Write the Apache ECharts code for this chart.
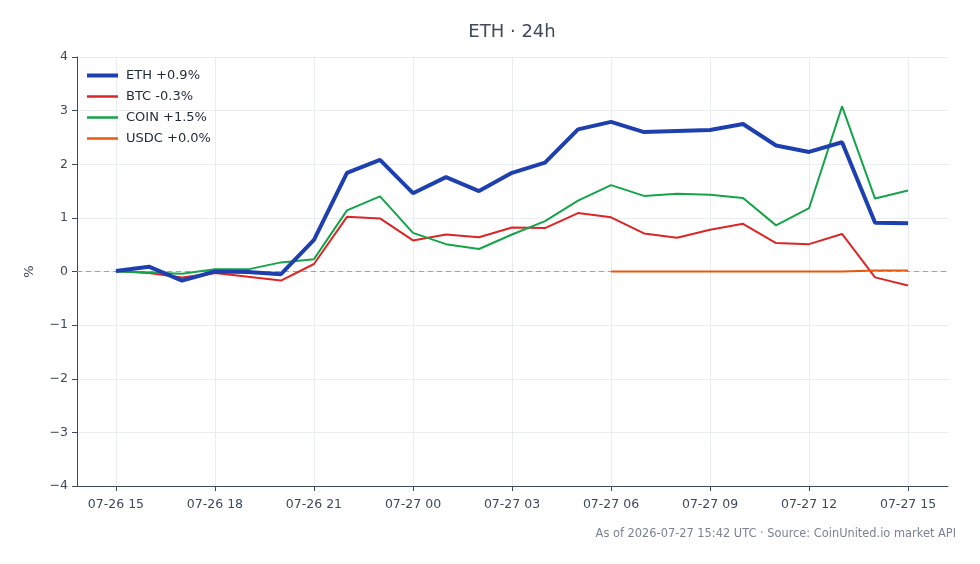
<!DOCTYPE html>
<html>
<head>
<meta charset="utf-8">
<script src="https://cdn.jsdelivr.net/npm/echarts@6/dist/echarts.min.js"></script>
<style>
  html, body { margin: 0; padding: 0; background: #ffffff; }
  #chart { width: 980px; height: 564px; }
</style>
</head>
<body>
<div id="chart"></div>
<script>
// hours since 07-26 15:00 UTC
const hours = [0, 1, 2, 3, 4, 5, 6, 7, 8, 9, 10, 11, 12, 13, 14, 15, 16, 17, 18, 19, 20, 21, 22, 23, 24]
const tickHours = [0, 3, 6, 9, 12, 15, 18, 21, 24]
const tickLabels = ["07-26 15", "07-26 18", "07-26 21", "07-27 00", "07-27 03", "07-27 06", "07-27 09", "07-27 12", "07-27 15"]

// % change vs. start of window
const ethValues = [0.01, 0.09, -0.17, 0.0, -0.01, -0.05, 0.59, 1.84, 2.08, 1.46, 1.76, 1.5, 1.84, 2.03, 2.65, 2.79, 2.6, 2.62, 2.64, 2.75, 2.35, 2.23, 2.41, 0.91, 0.9]
const btcValues = [0.01, -0.03, -0.11, -0.03, -0.1, -0.17, 0.14, 1.02, 0.99, 0.58, 0.69, 0.64, 0.82, 0.81, 1.09, 1.01, 0.71, 0.63, 0.78, 0.89, 0.53, 0.51, 0.7, -0.11, -0.26]
const coinValues = [0.0, -0.02, -0.04, 0.04, 0.04, 0.17, 0.23, 1.14, 1.4, 0.72, 0.51, 0.42, 0.69, 0.94, 1.32, 1.61, 1.41, 1.45, 1.43, 1.37, 0.86, 1.18, 3.08, 1.36, 1.51]
const usdcValues = [null, null, null, null, null, null, null, null, null, null, null, null, null, null, null, 0.0, 0.0, 0.0, 0.0, 0.0, 0.0, 0.0, 0.0, 0.02, 0.02]

const seriesNames = ["ETH +0.9%", "BTC -0.3%", "COIN +1.5%", "USDC +0.0%"]
const seriesColors = ["#1e40af", "#dc2626", "#16a34a", "#ea580c"]
const lineWidths = [4, 2, 2, 2]

const font = "DejaVu Sans"

function pairs(values) {
  return hours.map((h, i) => [h, values[i]])
}

const chart = echarts.init(document.getElementById("chart"), null, { renderer: "canvas" })

const lineSeries = [ethValues, btcValues, coinValues, usdcValues].map((vals, i) => ({
  name: seriesNames[i],
  type: "line",
  data: pairs(vals),
  showSymbol: false,
  symbol: "none",
  connectNulls: false,
  z: i === 0 ? 5 : 3,
  lineStyle: { width: lineWidths[i], color: seriesColors[i] },
  itemStyle: { color: seriesColors[i] }
}))

// dashed zero line
lineSeries[1].markLine = {
  silent: true,
  symbol: "none",
  label: { show: false },
  lineStyle: { type: [5, 4], color: "#94a3b8", width: 1 },
  data: [{ yAxis: 0 }],
  z: 1
}

const option = {
  backgroundColor: "#ffffff",
  animation: false,
  textStyle: { fontFamily: font },
  title: {
    text: "ETH · 24h",
    left: 512,
    textAlign: "center",
    top: 23,
    padding: 0,
    textStyle: { fontFamily: font, fontSize: 18, fontWeight: "normal", color: "#3f4a5c" }
  },
  graphic: [{
    type: "text",
    right: 24,
    top: 529,
    style: {
      text: "As of 2026-07-27 15:42 UTC · Source: CoinUnited.io market API",
      font: "11.4px " + font,
      fill: "#7a8394"
    }
  }],
  legend: {
    left: 85,
    top: 69,
    padding: 0,
    orient: "vertical",
    itemGap: 8,
    itemWidth: 31,
    itemHeight: 13,
    itemStyle: { opacity: 0 },
    textStyle: { fontFamily: font, fontSize: 13, color: "#1f2937", padding: [0, 0, 0, 3] },
    data: seriesNames.map((name, i) => ({
      name: name,
      lineStyle: { width: i === 0 ? 4 : 2.5, color: seriesColors[i] }
    }))
  },
  grid: { left: 77, right: 32, top: 57, bottom: 78 },
  xAxis: {
    type: "value",
    min: -1.18,
    max: 25.21,
    axisLine: { show: true, onZero: false, lineStyle: { color: "#3d4a5c", width: 1 } },
    axisTick: { show: true, length: 5, customValues: tickHours, lineStyle: { color: "#3d4a5c" } },
    axisLabel: {
      customValues: tickHours,
      margin: 12,
      fontFamily: font,
      fontSize: 12.5,
      color: "#3d4a5c",
      formatter: (v) => tickLabels[tickHours.indexOf(Math.round(v))] || ""
    },
    splitLine: { show: true, lineStyle: { color: "#e9ecf1", width: 1 } }
  },
  yAxis: {
    type: "value",
    min: -4,
    max: 4,
    interval: 1,
    name: "%",
    nameLocation: "middle",
    nameGap: 41,
    nameTextStyle: { fontFamily: font, fontSize: 13, color: "#3d4a5c" },
    axisLine: { show: true, onZero: false, lineStyle: { color: "#3d4a5c", width: 1 } },
    axisTick: { show: true, length: 5, lineStyle: { color: "#3d4a5c" } },
    axisLabel: {
      margin: 9,
      fontFamily: font,
      fontSize: 12.5,
      color: "#3d4a5c",
      formatter: (v) => String(v).replace("-", "\u2212")
    },
    splitLine: { show: true, lineStyle: { color: "#e9ecf1", width: 1 } }
  },
  series: lineSeries
}

chart.setOption(option)
</script>
</body>
</html>
